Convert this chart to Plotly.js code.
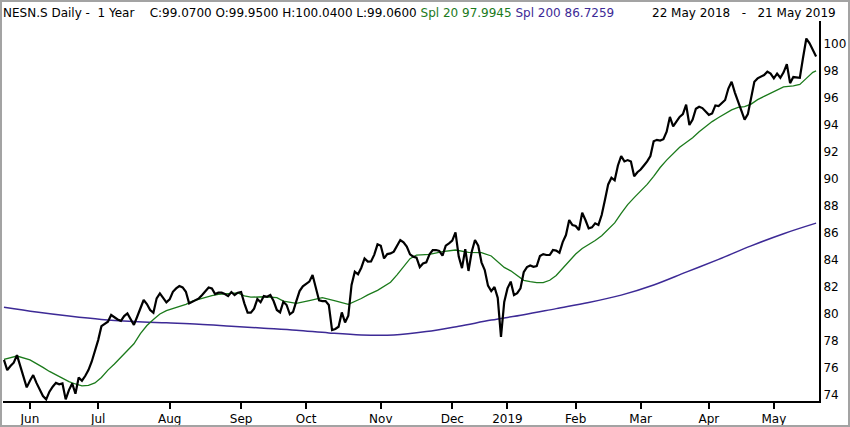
<!DOCTYPE html>
<html>
<head>
<meta charset="utf-8">
<script src="https://cdn.plot.ly/plotly-3.0.1.min.js"></script>
<style>
  body { margin: 0; background: #fff; }
  #chart { width: 846px; height: 423px; border: 2px solid #a3a3a3; }
</style>
</head>
<body>
<div id="chart"></div>
<script>
// trading calendar, 22 May 2018 - 21 May 2019 (SIX holidays left out)
var firstDay = '2018-05-22';
var lastDay = '2019-05-21';
var holidays = ['2018-08-01', '2018-12-24', '2018-12-25', '2018-12-26', '2018-12-31',
                '2019-01-01', '2019-01-02', '2019-04-19', '2019-04-22', '2019-05-01'];

// daily closes, one per trading day
var closes = [
  76.6, 75.85, 76.15, 76.4, 76.96, 76.15, 75.3, 74.57, 75.06, 75.48,
  74.9, 74.37, 73.93, 73.68, 74.25, 74.62, 74.9, 74.8, 74.86, 73.68,
  74.37, 74.86, 74.1, 75.3, 75.06, 75.41, 75.85, 76.47, 77.2, 78.07,
  79.1, 79.3, 79.43, 79.93, 79.75, 79.6, 79.5, 79.85, 80.05, 79.56,
  79.19, 79.8, 80.5, 81.04, 80.74, 80.3, 80.1, 81.16, 81.53, 81.16,
  80.87, 81.09, 81.65, 81.9, 82.07, 81.97, 81.65, 80.79, 80.91, 81.04,
  81.16, 81.41, 81.73, 81.97, 81.9, 81.48, 81.58, 81.58, 81.48, 81.33,
  81.63, 81.41, 81.58, 81.63, 80.79, 80.1, 80.1, 80.4, 81.11, 80.87,
  81.33, 81.28, 81.41, 80.96, 80.3, 80.12, 80.91, 80.67, 79.98, 80.17,
  80.96, 81.7, 82.05, 82.2, 82.4, 82.89, 81.9, 81.01, 80.96, 80.96,
  80.67, 78.81, 78.89, 79.06, 80.12, 79.38, 79.88, 82.15, 83.14, 82.94,
  83.43, 84.12, 83.88, 83.9, 84.4, 85.16, 85.06, 84.12, 84.44, 84.49,
  84.62, 85.06, 85.48, 85.31, 84.99, 84.42, 84.25, 84.17, 83.48, 83.75,
  83.83, 84.42, 84.74, 84.74, 84.67, 84.32, 85.06, 85.23, 85.43, 86.05,
  84.25, 83.4, 84.81, 83.19, 84.62, 85.48, 85.06, 83.83, 83.26, 82.1,
  81.7, 82.0, 81.2, 78.3, 80.9, 81.9, 82.4, 81.4, 81.55, 81.9,
  83.1, 83.48, 83.6, 83.5, 83.55, 84.3, 84.44, 84.37, 84.37, 84.74,
  84.7, 84.54, 85.33, 85.85, 86.96, 86.59, 86.52, 86.22, 87.5, 86.96,
  86.35, 86.42, 86.72, 86.6, 87.33, 88.44, 89.6, 90.1, 89.9, 91.0,
  91.7, 91.3, 91.4, 91.3, 90.2, 90.5, 90.7, 91.0, 91.3, 91.7,
  92.8, 92.9, 92.85, 92.95, 93.5, 94.6, 93.9, 94.25, 94.6, 94.8,
  95.5, 94.0, 94.4, 95.2, 95.35, 95.25, 95.0, 94.75, 94.85, 95.45,
  95.4, 95.65, 95.85, 96.7, 97.2, 96.4, 95.7, 95.0, 94.4, 94.8,
  96.0, 97.2, 97.45, 97.55, 97.7, 97.95, 97.8, 97.45, 97.8, 97.5,
  97.9, 98.5, 97.1, 97.55, 97.5, 97.5, 99.0, 100.4, 100.05, 99.55,
  99.07
];

// 20 day average, read at these trading day numbers
var sma20At = [0, 4, 8, 10, 12, 14, 16, 18, 20, 22, 24, 26, 28, 30, 32, 34, 36, 38, 40, 42,
  44, 46, 48, 50, 52, 54, 56, 58, 60, 62, 64, 66, 68, 70, 72, 74, 76, 80, 84, 86,
  90, 94, 98, 102, 106, 110, 112, 115, 117, 119, 121, 123, 125, 127, 131, 135, 139, 143, 147, 150,
  152, 154, 156, 158, 160, 162, 164, 166, 168, 170, 172, 174, 176, 178, 180, 182, 184, 186, 188, 190,
  192, 194, 196, 198, 200, 202, 204, 206, 208, 210, 212, 214, 216, 218, 220, 222, 224, 226, 228, 230,
  232, 234, 236, 238, 240, 243, 245, 247, 249, 250];
var sma20 = [76.64, 76.89, 76.6, 76.35, 76.05, 75.75, 75.5, 75.25, 75.0, 74.82, 74.68, 74.72, 74.9, 75.3, 75.85, 76.3, 76.8, 77.3, 77.8, 78.55,
  79.15, 79.6, 80.0, 80.25, 80.42, 80.55, 80.72, 80.95, 81.1, 81.24, 81.36, 81.45, 81.5, 81.55, 81.56, 81.35, 81.25, 81.28, 81.22, 80.96,
  80.79, 81.0, 81.21, 80.98, 80.72, 81.15, 81.42, 81.75, 82.05, 82.35, 82.9, 83.5, 84.1, 84.37, 84.42, 84.62, 84.74, 84.57, 84.55, 84.3,
  83.85, 83.45, 83.2, 82.85, 82.5, 82.4, 82.32, 82.32, 82.5, 82.85, 83.4, 83.95, 84.45, 84.85, 85.12, 85.45, 85.8, 86.25, 86.75, 87.45,
  88.1, 88.62, 89.1, 89.6, 90.2, 90.85, 91.4, 91.9, 92.35, 92.7, 93.05, 93.5, 93.9, 94.25, 94.55, 94.85, 95.12, 95.3, 95.36, 95.55,
  95.88, 96.12, 96.37, 96.62, 96.82, 96.9, 97.0, 97.45, 97.9, 98.0];

// 200 day average
var sma200At = [0, 10, 20, 30, 40, 50, 60, 70, 80, 90, 100, 110, 120, 130, 140, 150, 160, 170, 180, 190,
  200, 210, 220, 230, 240, 250];
var sma200 = [80.5, 80.15, 79.85, 79.6, 79.45, 79.35, 79.25, 79.1, 78.95, 78.8, 78.6, 78.45, 78.45, 78.7, 79.1, 79.55, 79.95, 80.4, 80.85, 81.4,
  82.15, 83.1, 84.05, 85.05, 85.95, 86.73];

var monthLabels = ['Jun', 'Jul', 'Aug', 'Sep', 'Oct', 'Nov', 'Dec', '2019', 'Feb', 'Mar', 'Apr', 'May'];
var priceTicks = [74, 76, 78, 80, 82, 84, 86, 88, 90, 92, 94, 96, 98, 100];

function iso(d) {
  return d.toISOString().slice(0, 10);
}

function make_days(start, end) {
  var out = [];
  var d = new Date(start + 'T00:00:00Z');
  var stop = new Date(end + 'T00:00:00Z');
  while (d <= stop) {
    var wd = d.getUTCDay();
    if (wd != 0 && wd != 6 && holidays.indexOf(iso(d)) < 0) {
      out.push(iso(d));
    }
    d.setUTCDate(d.getUTCDate() + 1);
  }
  return out;
}

var days = make_days(firstDay, lastDay);

// first trading day of each month gets a tick
var monthTicks = [];
for (let i = 1; i < days.length; i++) {
  if (days[i].slice(5, 7) != days[i - 1].slice(5, 7)) {
    monthTicks.push(days[i]);
  }
}

var green = '#1b7a1b';
var purple = '#3d2a96';

var traceClose = {
  x: days, y: closes, type: 'scatter', mode: 'lines',
  line: {color: '#000000', width: 2.2}
};
var trace20 = {
  x: sma20At.map(i => days[i]), y: sma20, type: 'scatter', mode: 'lines',
  line: {color: green, width: 1.3}
};
var trace200 = {
  x: sma200At.map(i => days[i]), y: sma200, type: 'scatter', mode: 'lines',
  line: {color: purple, width: 1.5, shape: 'spline'}
};

var font = {family: 'DejaVu Sans, Verdana, sans-serif', size: 12, color: '#000000'};

var header = 'NESN.S Daily -&nbsp; 1 Year&nbsp;&nbsp;&nbsp; C:99.0700 O:99.9500 H:100.0400 L:99.0600 ' +
  '<span style="color:' + green + '">Spl 20 97.9945</span> ' +
  '<span style="color:' + purple + '">Spl 200 86.7259</span>';

var layout = {
  width: 846, height: 423,
  margin: {l: 1, r: 29, t: 19, b: 24},
  paper_bgcolor: '#ffffff', plot_bgcolor: '#ffffff',
  showlegend: false,
  hovermode: false,
  font: font,
  xaxis: {
    type: 'date',
    range: ['2018-05-21 16:48', '2019-05-21 21:36'],
    rangebreaks: [{bounds: ['sat', 'mon']}, {values: holidays}],
    tickmode: 'array', tickvals: monthTicks, ticktext: monthLabels,
    ticks: 'outside', ticklen: 6, tickwidth: 2, tickcolor: '#000000',
    showline: true, linecolor: '#000000', linewidth: 2,
    showgrid: false, zeroline: false,
    tickfont: font
  },
  yaxis: {
    side: 'right',
    range: [73.56, 101.7],
    tickmode: 'array', tickvals: priceTicks, ticktext: priceTicks.map(String),
    ticks: '', showline: true, linecolor: '#000000', linewidth: 2,
    showgrid: false, zeroline: false,
    tickfont: font
  },
  annotations: [
    {xref: 'paper', yref: 'paper', x: -0.003, y: 1.021, xanchor: 'left', yanchor: 'middle',
     showarrow: false, text: header, font: font},
    {xref: 'paper', yref: 'paper', x: 1.0233, y: 1.021, xanchor: 'right', yanchor: 'middle',
     showarrow: false, text: '22 May 2018&nbsp;&nbsp; -&nbsp;&nbsp; 21 May 2019', font: font}
  ]
};

Plotly.newPlot('chart', [trace200, trace20, traceClose], layout, {displayModeBar: false, staticPlot: true});
</script>
</body>
</html>
